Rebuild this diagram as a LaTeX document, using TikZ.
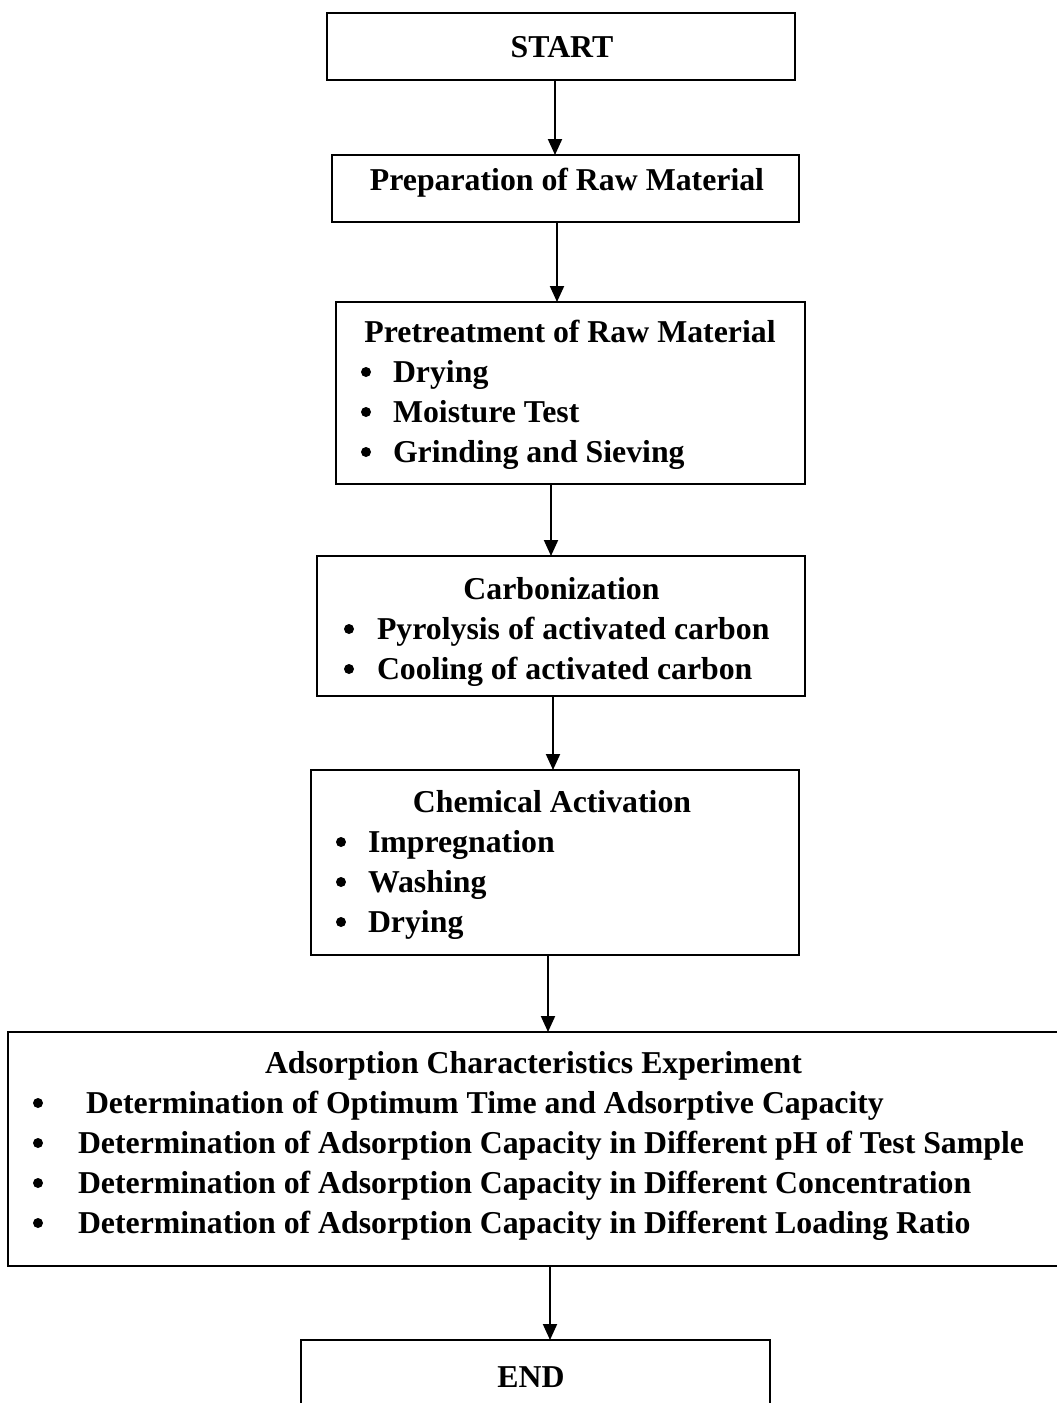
\documentclass[tikz,border=0pt]{standalone}
\usepackage{fontspec}
\setmainfont{Liberation Serif}
\usetikzlibrary{arrows.meta}
\begin{document}
\begin{tikzpicture}[x=1pt,y=-1pt,
  box/.style={draw, line width=1.8pt, rectangle, inner sep=0pt, outer sep=0pt},
  txt/.style={inner sep=0pt, outer sep=0pt, anchor=base, font=\fontsize{31.8}{38}\selectfont\bfseries},
  itemtxt/.style={txt, anchor=base west},
  dot/.style={circle, fill, inner sep=0pt, minimum size=10pt},
  flow/.style={line width=2pt, -{Triangle[length=16pt,width=14pt]}}]
\useasboundingbox (0,0) rectangle (1057,1403);
% boxes
\node[box, minimum width=468pt, minimum height=67pt] (start) at (561,46.5) {};
\node[box, minimum width=467pt, minimum height=67pt] (prep) at (565.5,188.5) {};
\node[box, minimum width=469pt, minimum height=182pt] (pre) at (570.5,393) {};
\node[box, minimum width=488pt, minimum height=140pt] (carb) at (561,626) {};
\node[box, minimum width=488pt, minimum height=185pt] (chem) at (555,862.5) {};
\node[box, minimum width=1054pt, minimum height=234pt] (ads) at (535,1149) {};
\node[box, minimum width=469pt, minimum height=80pt] (end) at (535.5,1380) {};
% texts
\node[txt] (tstart) at (562,57) {START};
\node[txt] (tprep) at (567,190) {Preparation of Raw Material};
\node[txt] (tpre) at (570,342) {Pretreatment of Raw Material};
\node[dot] (bpre1) at (366,372) {};
\node[dot] (bpre2) at (366,412) {};
\node[dot] (bpre3) at (366,452) {};
\node[itemtxt] (ipre1) at (393,382) {Drying};
\node[itemtxt] (ipre2) at (393,422) {Moisture Test};
\node[itemtxt] (ipre3) at (393,462) {Grinding and Sieving};
\node[txt] (tcarb) at (561.5,599) {Carbonization};
\node[dot] (bcarb1) at (349,629) {};
\node[dot] (bcarb2) at (349,669) {};
\node[itemtxt] (icarb1) at (377,639) {Pyrolysis of activated carbon};
\node[itemtxt] (icarb2) at (377,679) {Cooling of activated carbon};
\node[txt] (tchem) at (552,812) {Chemical Activation};
\node[dot] (bchem1) at (341,842) {};
\node[dot] (bchem2) at (341,882) {};
\node[dot] (bchem3) at (341,922) {};
\node[itemtxt] (ichem1) at (368,852) {Impregnation};
\node[itemtxt] (ichem2) at (368,892) {Washing};
\node[itemtxt] (ichem3) at (368,932) {Drying};
\node[txt] (tads) at (533.5,1073) {Adsorption Characteristics Experiment};
\node[dot] (bads1) at (38,1103) {};
\node[dot] (bads2) at (38,1143) {};
\node[dot] (bads3) at (38,1183) {};
\node[dot] (bads4) at (38,1223) {};
\node[itemtxt] (iads1) at (86,1113) {Determination of Optimum Time and Adsorptive Capacity};
\node[itemtxt] (iads2) at (78,1153) {Determination of Adsorption Capacity in Different pH of Test Sample};
\node[itemtxt] (iads3) at (78,1193) {Determination of Adsorption Capacity in Different Concentration};
\node[itemtxt] (iads4) at (78,1233) {Determination of Adsorption Capacity in Different Loading Ratio};
\node[txt] (tend) at (531,1387) {END};
% connector columns
\coordinate (c1) at (555,0);
\coordinate (c2) at (557,0);
\coordinate (c3) at (551,0);
\coordinate (c4) at (553,0);
\coordinate (c5) at (548,0);
\coordinate (c6) at (550,0);
\draw[flow] (start.south -| c1) -- (prep.north -| c1);
\draw[flow] (prep.south -| c2) -- (pre.north -| c2);
\draw[flow] (pre.south -| c3) -- (carb.north -| c3);
\draw[flow] (carb.south -| c4) -- (chem.north -| c4);
\draw[flow] (chem.south -| c5) -- (ads.north -| c5);
\draw[flow] (ads.south -| c6) -- (end.north -| c6);
\end{tikzpicture}
\end{document}
